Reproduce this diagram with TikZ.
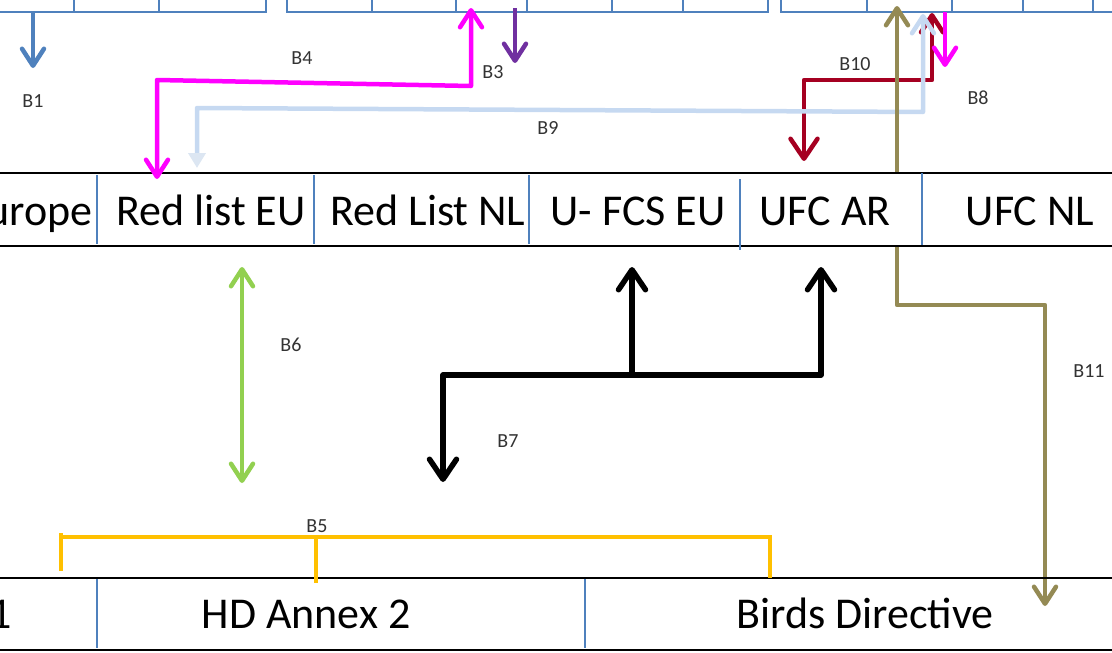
\documentclass[tikz,border=0pt]{standalone}
\usepackage{fontspec}
\setmainfont{Carlito}
\usetikzlibrary{arrows.meta}
\definecolor{tblue}{HTML}{4F81BD}
\definecolor{cmag}{HTML}{FF00FF}
\definecolor{cpurple}{HTML}{7030A0}
\definecolor{clblue}{HTML}{C6D9F1}
\definecolor{clblue2}{HTML}{DCE6F2}
\definecolor{cred}{HTML}{A50021}
\definecolor{colive}{HTML}{948A54}
\definecolor{cgreen}{HTML}{92D050}
\definecolor{corange}{HTML}{FFC000}
\definecolor{clabel}{HTML}{333333}
\tikzset{
  chev/.tip={Straight Barb[length=17pt,width=22pt,round]},
  chevbig/.tip={Straight Barb[length=20pt,width=27pt,round]},
  tri/.tip={Triangle[length=15pt,width=17pt]},
  tbl/.style={draw=tblue,line width=2.2pt},
  divl/.style={draw=tblue,line width=1.5pt},
  hline/.style={draw=black,line width=2pt},
  cell/.style={font=\fontsize{44}{48}\selectfont,text=black,inner sep=0pt,anchor=base},
  lab/.style={font=\fontsize{20}{22}\selectfont,text=clabel,inner sep=0pt},
  conn/.style={line width=4.5pt,line join=round},
}
\begin{document}
\begin{tikzpicture}[x=1pt,y=-1pt]
\useasboundingbox (0,0) rectangle (1112,653);
% ---- top partial tables
\draw[tbl] (-3,12) -- (266,12) -- (266,-3);
\foreach \x in {74,159} \draw[divl] (\x,-3) -- (\x,12);
\draw[tbl] (287,-3) -- (287,12) -- (768,12) -- (768,-3);
\foreach \x in {372,456,527,612,683} \draw[divl] (\x,-3) -- (\x,12);
\draw[tbl] (781,-3) -- (781,12) -- (1115,12);
\foreach \x in {867,952,1023,1093} \draw[divl] (\x,-3) -- (\x,12);

% ---- coordinates
\coordinate (b1s) at (33,12);   \coordinate (b1e) at (33,68);
\coordinate (b3e) at (471,8);   \coordinate (b3c) at (471,86);
\coordinate (b4c) at (157,80);  \coordinate (b4e) at (157,179);
\coordinate (b2s) at (515,8);   \coordinate (b2e) at (515,63);
\coordinate (b8s) at (945,12);  \coordinate (b8e) at (945,67);
\coordinate (b9s) at (923,14);  \coordinate (b9c) at (923,112);
\coordinate (b9d) at (197,108); \coordinate (b9e) at (197,168);
\coordinate (b10s) at (932,13); \coordinate (b10c) at (932,80);
\coordinate (b10d) at (804,80); \coordinate (b10e) at (804,161);
\coordinate (b11s) at (897,6);  \coordinate (b11c) at (897,305);
\coordinate (b11d) at (1045,305); \coordinate (b11e) at (1045,606);
\coordinate (b7s) at (443,482); \coordinate (b7c) at (443,375);
\coordinate (b7d) at (821,375); \coordinate (b7e) at (821,267);
\coordinate (b7m) at (632,375); \coordinate (b7t) at (632,267);
\coordinate (b6s) at (242,267); \coordinate (b6e) at (242,483);
\coordinate (b5a) at (61,571);  \coordinate (b5b) at (61,533);
\coordinate (b5c) at (61,537);  \coordinate (b5d) at (770,537);
\coordinate (b5e) at (770,578); \coordinate (b5m) at (316,537);
\coordinate (b5n) at (316,583);

% ---- olive B11 (behind middle table)
\draw[conn,colive,{chev}-{chev}] (b11s) -- (b11c) -- (b11d) -- (b11e);

% ---- middle table
\fill[white] (-3,174) rectangle (1115,245);
\draw[hline] (-3,173) -- (1115,173);
\draw[hline] (-3,246) -- (1115,246);
\draw[divl] (97,175) -- (97,244);
\draw[divl] (314,175) -- (314,244);
\draw[divl] (529,175) -- (529,244);
\draw[divl] (740,179) -- (740,250);
\draw[divl] (922,173) -- (922,245);
\node[cell,anchor=base east] (eur) at (93,225) {Europe};
\node[cell] (rleu) at (211,225) {Red list EU};
\node[cell] (rlnl) at (428,225) {Red List NL};
\node[cell] (ufcseu) at (638,225) {U- FCS EU};
\node[cell] (ufcar) at (825,225) {UFC AR};
\node[cell] (ufcnl) at (1030,225) {UFC NL};
\fill[white] (-3,174) rectangle (0,245);

% ---- bottom table
\draw[hline] (-3,578) -- (1115,578);
\draw[hline] (-3,650) -- (1115,650);
\draw[divl] (97,579) -- (97,648);
\draw[divl] (585,579) -- (585,648);
\node[cell,anchor=base east] (hd1) at (12,628) {1};
\node[cell] (hd2) at (306,628) {HD Annex 2};
\node[cell] (bd) at (865,628) {Birds Directive};

% ---- connectors
\draw[conn,tblue,-{chev}] (b1s) -- (b1e);
\draw[conn,cred,{chev}-{chevbig}] (b10s) -- (b10c) -- (b10d) -- (b10e);
\draw[conn,cmag,{chev}-{chev}] (b3e) -- (b3c) -- (b4c) -- (b4e);
\draw[conn,cpurple,-{chev}] (b2s) -- (b2e);
\draw[conn,cmag,-{chev}] (b8s) -- (b8e);
\draw[conn,clblue,{chev}-{tri[clblue2]}] (b9s) -- (b9c) -- (b9d) -- (b9e);
\draw[conn,colive] (897,60) -- (897,170);
\draw[conn,black,line width=5.5pt,{chevbig}-{chevbig}] (b7s) -- (b7c) -- (b7d) -- (b7e);
\draw[conn,black,line width=5.5pt,-{chevbig}] (b7m) -- (b7t);
\draw[conn,cgreen,{chev}-{chev}] (b6s) -- (b6e);
\draw[conn,corange,line join=miter] (b5a) -- (b5b);
\draw[conn,corange,line join=miter] (b5c) -- (b5d) -- (b5e);
\draw[conn,corange] (b5m) -- (b5n);

% ---- labels
\node[lab] (l1) at (33,101) {B1};
\node[lab] (l4) at (302,58) {B4};
\node[lab] (l3) at (493,72) {B3};
\node[lab] (l10) at (855,64) {B10};
\node[lab] (l8) at (978,98) {B8};
\node[lab] (l9) at (548,128) {B9};
\node[lab] (l6) at (291,345) {B6};
\node[lab] (l7) at (508,441) {B7};
\node[lab] (l5) at (317,526) {B5};
\node[lab] (l11) at (1089,371) {B11};
\end{tikzpicture}
\end{document}
